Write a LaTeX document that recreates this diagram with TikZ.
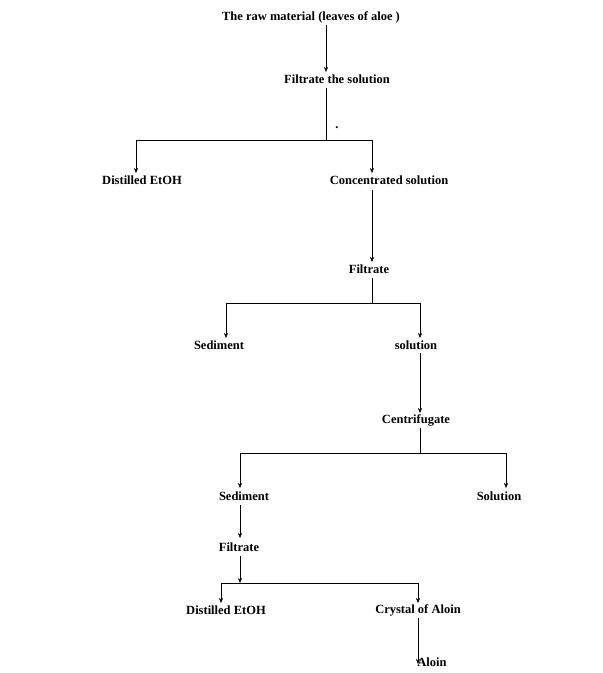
\documentclass[tikz,border=0pt]{standalone}
\usepackage{fontspec}
\setmainfont{Liberation Serif}
\usetikzlibrary{positioning,arrows.meta}
\begin{document}
\begin{tikzpicture}[x=1pt, y=-1pt, t/.style={font=\bfseries\fontsize{12.5}{14}\selectfont, inner sep=1pt}, a/.style={-{Stealth[length=5pt,width=4pt]}}]
		\useasboundingbox (0,0) rectangle (603,673);
		\node[t] (raw) at (311,17) {The raw material (leaves of aloe )};
		\node[t] (fs) at (337,79) {Filtrate the solution};
		\node[t] (de1) at (142,180) {Distilled EtOH};
		\node[t] (cs) at (389,180) {Concentrated solution};
		\node[t] (f1) at (369,269) {Filtrate};
		\node[t] (sd1) at (219,345) {Sediment};
		\node[t] (so1) at (416,345) {solution};
		\node[t] (cf) at (416,420) {Centrifugate};
		\node[t] (sd2) at (244,496) {Sediment};
		\node[t] (so2) at (499,496) {Solution};
		\node[t] (f2) at (239,547) {Filtrate};
		\node[t] (de2) at (226,610) {Distilled EtOH};
		\node[t] (cr) at (418,610) {Crystal of Aloin};
		\node[t] (al) at (432,662) {Aloin};
		\node[t] (dot) at (337,128) {.};

		\coordinate (j1) at (326,140);
		\coordinate (j2) at (372,303);
		\coordinate (j3) at (420,453);
		\coordinate (j4) at (240,583);

		\draw[a] (326,25) -- (326,72);
		\draw (326,88) -- (j1);
		\draw[a] (j1) -| (136,173);
		\draw[a] (j1) -| (372,173);
		\draw[a] (372,190) -- (372,262);
		\draw (372,278) -- (j2);
		\draw[a] (j2) -| (226,338);
		\draw[a] (j2) -| (420,338);
		\draw[a] (420,353) -- (420,413);
		\draw (420,428) -- (j3);
		\draw[a] (j3) -| (240,488);
		\draw[a] (j3) -| (506,488);
		\draw[a] (240,505) -- (240,538);
		\draw[a] (240,556) -- (j4);
		\draw[a] (j4) -| (221,603);
		\draw[a] (j4) -| (418,603);
		\draw[a] (418,618) -- (418,664);
	\end{tikzpicture}
\end{document}
